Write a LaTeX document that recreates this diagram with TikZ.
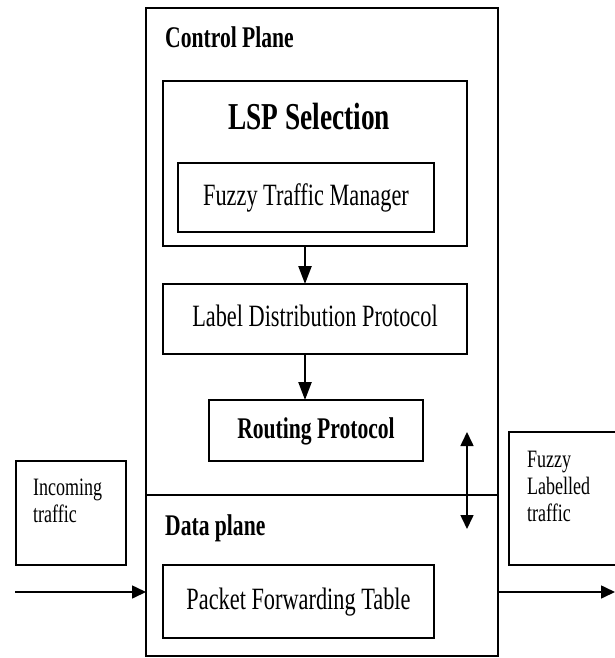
\documentclass[tikz,border=0pt]{standalone}
\usepackage{fontspec}
\setmainfont{Liberation Serif}[FakeStretch=0.72]
\usetikzlibrary{arrows.meta}

\tikzset{
	box/.style={draw,line width=1.6pt,inner sep=0pt,outer sep=0pt},
	txt/.style={font=\fontsize{31}{33}\selectfont,text height=22pt,text depth=7pt},
	hd/.style={font=\bfseries\fontsize{30}{32}\selectfont,inner sep=0pt},
	big/.style={font=\bfseries\fontsize{38}{40}\selectfont,inner sep=0pt},
	side/.style={font=\fontsize{25}{27}\selectfont,align=left,inner sep=0pt},
	flow/.style={-{Triangle[length=18pt,width=13pt]},line width=2.4pt}
}

\begin{document}
\begin{tikzpicture}[x=1pt,y=-1pt,>={Triangle[length=14pt,width=13pt]}]
	\useasboundingbox (0,0) rectangle (615,658);
	\clip (0,0) rectangle (615,658);
%	\draw[gray,step=50] (0,0) grid (615,658);

	% planes
	\node[box,minimum width=352pt,minimum height=487pt] (cp) at (322,251.5) {};
	\node[box,minimum width=352pt,minimum height=161pt] (dp) at (322,575.5) {};
	\node[hd,anchor=base west] (cpt) at (165,48) {Control Plane};
	\node[hd,anchor=base west] (dpt) at (165,535) {Data plane};

	% control plane
	\node[box,minimum width=304pt,minimum height=165pt] (lsp) at (315,163.5) {};
	\node[big,anchor=base] (lspt) at (309,129) {LSP Selection};
	\node[box,txt,minimum width=256pt,minimum height=69pt] (ftm) at (306,197.5) {Fuzzy Traffic Manager};
	\node[box,txt,minimum width=304pt,minimum height=70pt] (ldp) at (315,319) {Label Distribution Protocol};
	\node[box,txt,font=\bfseries\fontsize{30}{32}\selectfont,minimum width=214pt,minimum height=61pt] (rp) at (316,430.5) {Routing Protocol};

	% data plane
	\node[box,txt,minimum width=271pt,minimum height=73pt] (pft) at (298.5,601.5) {Packet Forwarding Table};

	% traffic
	\node[box,minimum width=110pt,minimum height=104pt] (inc) at (71,513) {};
	\node[side,anchor=north west] (inct) at (33,479) {Incoming\\traffic};
	\node[box,minimum width=120pt,minimum height=133pt] (flt) at (569,498.5) {};
	\node[side,anchor=north west] (fltt) at (527,451) {Fuzzy\\Labelled\\traffic};

	\draw[flow] ([xshift=-10pt]lsp.south) -- ([xshift=-10pt]ldp.north);
	\draw[flow] ([xshift=-10pt]ldp.south) -- ([xshift=-11pt]rp.north);

	\coordinate (up) at (467,432);
	\coordinate (dn) at (467,529);
	\draw[<->,line width=1.6pt] (up) -- (dn);

	\coordinate (in) at (15,592);
	\coordinate (out) at (615,592);
	\draw[->,line width=1.6pt] (in) -- (in -| dp.west);
	\draw[->,line width=1.6pt] (in -| dp.east) -- (out);

\end{tikzpicture}
\end{document}
